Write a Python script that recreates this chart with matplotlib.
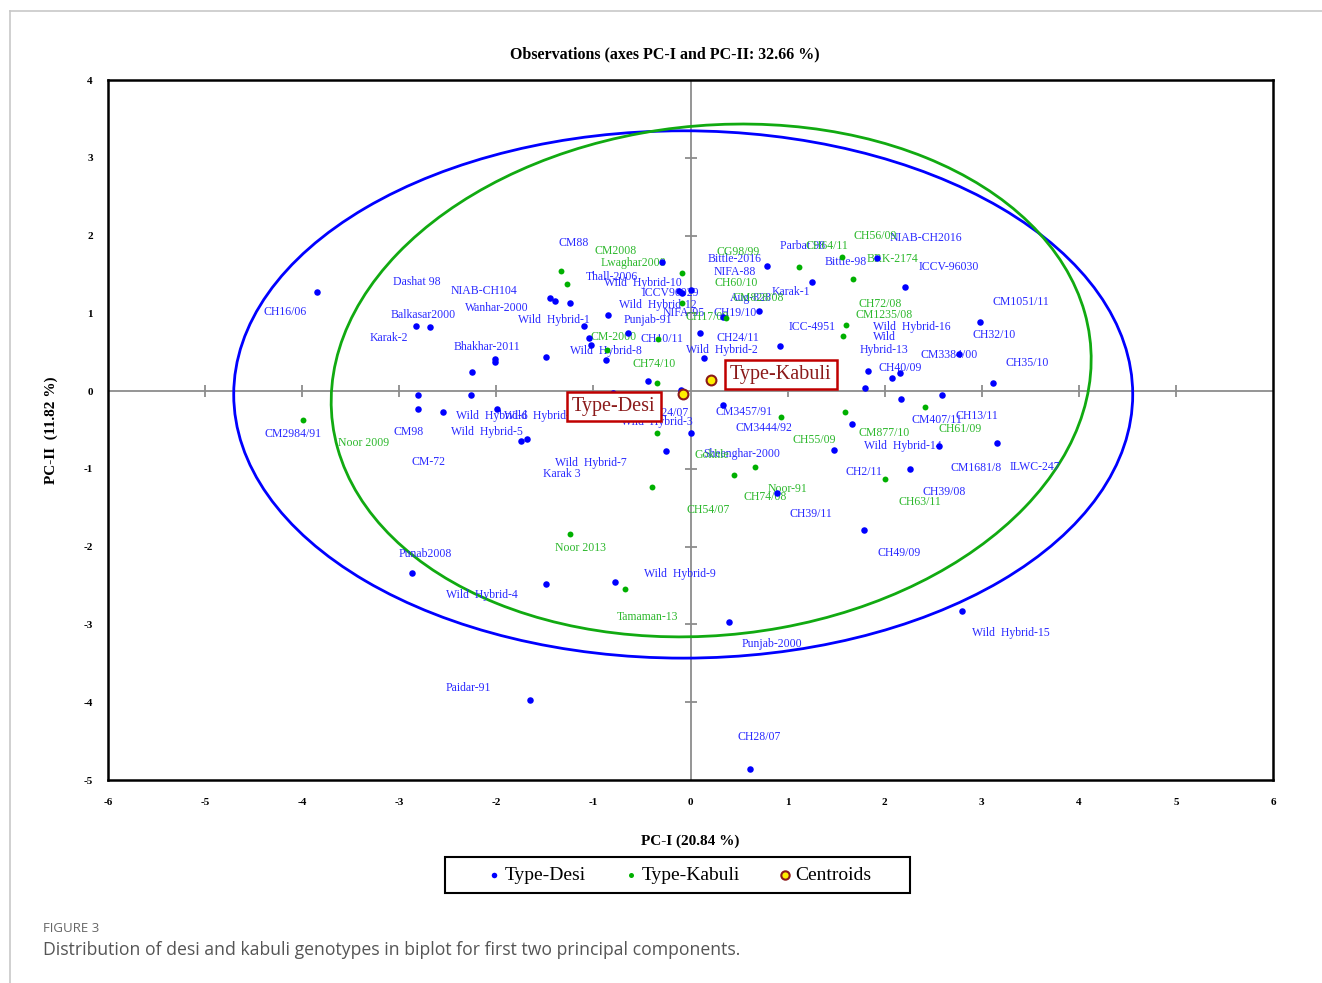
import matplotlib.pyplot as plt
from matplotlib.patches import Ellipse, Rectangle
from matplotlib.lines import Line2D

plt.rcParams['font.family'] = ['Liberation Serif', 'DejaVu Serif']
plt.rcParams['axes.unicode_minus'] = False

# PCA scores, desi genotypes
desi_x = [-3.845, -2.825, -2.685, -2.015, -2.015, -2.252, -1.486, -1.447, -1.397, -1.243,
          -2.804, -2.259, -2.804, -2.547, -1.991, -1.751, -1.689, -2.866, -0.291, -0.120,
          -0.085, 0.007, -0.848, -1.092, -0.642, -1.047, -1.023, -0.872, 0.103, 0.144,
          0.704, 0.790, 1.256, 0.927, -0.433, -1.047, -0.800, -0.096, 0.330, 1.922,
          2.214, 2.987, 2.763, 1.830, 2.163, 2.077, 3.113, 1.802, 2.592, 2.170,
          0.007, -0.250, 0.893, 1.668, 1.483, 2.557, 3.158, 2.259, 1.792, -1.486,
          -0.779, 0.398, -1.658, 2.801, 0.618, 0.330]
desi_y = [1.276, 0.835, 0.819, 0.407, 0.377, 0.244, 0.441, 1.199, 1.157, 1.131,
          -0.051, -0.051, -0.231, -0.274, -0.235, -0.643, -0.621, -2.343, 1.654, 1.285,
          1.264, 1.298, 0.985, 0.835, 0.741, 0.677, 0.591, 0.398, 0.741, 0.420,
          1.028, 1.611, 1.397, 0.583, 0.125, -0.094, -0.021, 0.013, -0.184, 1.713,
          1.341, 0.883, 0.471, 0.257, 0.227, 0.171, 0.099, 0.034, -0.051, -0.103,
          -0.536, -0.767, -1.307, -0.424, -0.758, -0.703, -0.673, -1.003, -1.787, -2.481,
          -2.455, -2.969, -3.976, -2.824, -4.859, 0.950]

# PCA scores, kabuli genotypes
kabuli_x = [-3.989, -1.339, -1.270, -0.085, -0.085, -0.865, -0.333, 0.370, 1.119, -0.350,
            0.937, 1.562, 1.675, 1.603, 1.572, 2.420, 1.596, -0.343, 0.669, 0.446,
            -0.395, -1.243, 2.001, -0.673]
kabuli_y = [-0.375, 1.542, 1.379, 1.513, 1.127, 0.527, 0.664, 0.940, 1.598, 0.099,
            -0.330, 1.726, 1.440, 0.848, 0.711, -0.210, -0.274, -0.544, -0.981, -1.084,
            -1.238, -1.842, -1.135, -2.545]

# class centroids (desi, kabuli)
cent_x = [-0.075, 0.213]
cent_y = [-0.043, 0.137]

desi_names = ['CH16/06', 'Dashat 98', 'NIAB-CH104', 'Wanhar-2000', 'Balkasar2000', 'Karak-2',
              'Bhakhar-2011', 'Wild  Hybrid-1', 'CM88', 'Thall-2006', 'Wild  Hybrid-10',
              'ICCV96029', 'Wild  Hybrid-12', 'NIFA-95', 'Punjab-91', 'CH19/10', 'CH10/11',
              'Wild  Hybrid-8', 'CH24/11', 'Wild  Hybrid-2', 'Bittle-2016', 'NIFA-88',
              'Aug-828', 'Karak-1', 'Parbat 98', 'ICC-4951', 'NIAB-CH2016', 'Bittle-98',
              'ICCV-96030', 'Wild  Hybrid-16', 'Wild', 'Hybrid-13', 'CM3384/00', 'CH40/09',
              'CM1051/11', 'CH32/10', 'CH35/10', 'CM2984/91', 'CM98', 'Wild  Hybrid-5',
              'Wild  Hybrid-6', 'Wild  Hybrid-11', 'CM-72', 'Punab2008', 'CH24/07',
              'Wild  Hybrid-3', 'CM3457/91', 'CM3444/92', 'Sheenghar-2000', 'Wild  Hybrid-7',
              'Karak 3', 'CH39/11', 'Wild  Hybrid-9', 'CM407/11', 'CH13/11', 'Wild  Hybrid-14',
              'CH2/11', 'CM1681/8', 'ILWC-247', 'CH39/08', 'CH49/09', 'Wild  Hybrid-4',
              'Paidar-91', 'Punjab-2000', 'Wild  Hybrid-15', 'CH28/07']
desi_lx = [-4.178, -2.815, -2.129, -1.991, -2.757, -3.107, -2.094, -1.411, -1.208, -0.814,
           -0.487, -0.206, -0.333, -0.069, -0.436, 0.463, -0.299, -0.875, 0.491, 0.319,
           0.453, 0.453, 0.618, 1.030, 1.150, 1.253, 2.420, 1.596, 2.660, 2.283,
           1.998, 1.991, 2.667, 2.156, 3.405, 3.124, 3.467, -4.092, -2.907, -2.101,
           -2.050, -1.520, -2.695, -2.729, -0.237, -0.350, 0.549, 0.755, 0.532, -1.030,
           -1.321, 1.236, -0.110, 2.540, 2.945, 2.190, 1.785, 2.945, 3.543, 2.616,
           2.145, -2.152, -2.293, 0.834, 3.303, 0.704]
desi_ly = [1.019, 1.405, 1.285, 1.071, 0.977, 0.677, 0.569, 0.913, 1.906, 1.469,
           1.392, 1.256, 1.105, 0.999, 0.913, 0.999, 0.664, 0.514, 0.677, 0.527,
           1.693, 1.534, 1.195, 1.276, 1.868, 0.827, 1.975, 1.654, 1.598, 0.827,
           0.698, 0.527, 0.463, 0.300, 1.148, 0.720, 0.356, -0.557, -0.523, -0.523,
           -0.321, -0.321, -0.908, -2.099, -0.283, -0.394, -0.274, -0.471, -0.810, -0.921,
           -1.067, -1.585, -2.356, -0.373, -0.321, -0.703, -1.045, -0.994, -0.981, -1.294,
           -2.078, -2.622, -3.822, -3.256, -3.115, -4.452]

kabuli_names = ['CM2008', 'Lwaghar2008', 'CH17/08', 'CM-2000', 'CH74/10', 'CG98/99', 'CH60/10',
                'CM828/08', 'CH64/11', 'CH56/09', 'BRK-2174', 'CH72/08', 'CM1235/08',
                'Noor 2009', 'CH55/09', 'Gokhle', 'Noor-91', 'CH74/08', 'CH54/07', 'Noor 2013',
                'CM877/10', 'CH61/09', 'CH63/11', 'Tamaman-13']
kabuli_lx = [-0.772, -0.584, 0.172, -0.790, -0.378, 0.487, 0.474, 0.700, 1.408, 1.905,
             2.077, 1.950, 1.991, -3.371, 1.270, 0.216, 0.996, 0.772, 0.182, -1.133,
             1.991, 2.774, 2.362, -0.439]
kabuli_ly = [1.799, 1.641, 0.947, 0.698, 0.343, 1.783, 1.384, 1.195, 1.864, 1.992,
             1.693, 1.118, 0.977, -0.664, -0.630, -0.823, -1.264, -1.358, -1.530, -2.022,
             -0.544, -0.493, -1.423, -2.909]

# confidence ellipses: full width, full height, angle
desi_ell = dict(w=9.26, h=6.78, ang=0.0)
kabuli_ell = dict(w=7.89, h=6.52, ang=12.8)

blue = '#0000ff'
green = '#00b000'
blue_txt = '#2a2aff'
green_txt = '#2db82d'

W, H = 1322, 983
fig = plt.figure(figsize=(W / 100, H / 100), dpi=100)
ax = fig.add_axes([108 / W, 1 - 780 / H, (1273 - 108) / W, (780 - 80) / H])
ax.set_xlim(-6, 6)
ax.set_ylim(-5, 4)

# zero lines with their little tick marks
xt = [v for v in range(-5, 6) if v != 0]
yt = [v for v in range(-4, 5) if v != 0]
ax.axhline(0, color='#8c8c8c', lw=1.3, zorder=1)
ax.axvline(0, color='#8c8c8c', lw=1.3, zorder=1)
ax.plot(xt, [0] * len(xt), ls='none', marker='|', ms=8, mew=1.3, color='#8c8c8c', zorder=1)
ax.plot([0] * len(yt), yt, ls='none', marker='_', ms=8, mew=1.3, color='#8c8c8c', zorder=1)

ax.add_patch(Ellipse((cent_x[0], cent_y[0]), desi_ell['w'], desi_ell['h'],
                     angle=desi_ell['ang'], fill=False, ec=blue, lw=2.0, zorder=2))
ax.add_patch(Ellipse((cent_x[1], cent_y[1]), kabuli_ell['w'], kabuli_ell['h'],
                     angle=kabuli_ell['ang'], fill=False, ec='#11aa11', lw=2.0, zorder=2))

for name, x, y in zip(desi_names, desi_lx, desi_ly):
    ax.text(x, y, name, color=blue_txt, fontsize=8.5, ha='center', va='center', zorder=3)
for name, x, y in zip(kabuli_names, kabuli_lx, kabuli_ly):
    ax.text(x, y, name, color=green_txt, fontsize=8.5, ha='center', va='center', zorder=3)

ax.scatter(desi_x, desi_y, s=22, color=blue, lw=0, zorder=4, label='Type-Desi')
ax.scatter(kabuli_x, kabuli_y, s=18, color=green, lw=0, zorder=4, label='Type-Kabuli')
ax.scatter(cent_x, cent_y, s=50, color='#ffee00', ec='#8b1a1a', lw=1.5, zorder=5,
           label='Centroids')

box = dict(boxstyle='square,pad=0.25', fc='white', ec='#c00000', lw=1.8)
ax.text(-0.79, -0.2, 'Type-Desi', fontsize=14.5, color='#8b1a1a', ha='center',
        va='center', bbox=box, zorder=6)
ax.text(0.93, 0.21, 'Type-Kabuli', fontsize=14.5, color='#8b1a1a', ha='center',
        va='center', bbox=box, zorder=6)

ax.set_xticks(range(-6, 7))
ax.set_yticks(range(-5, 5))
ax.tick_params(length=0, labelsize=8)
ax.tick_params(axis='x', pad=13)
ax.tick_params(axis='y', pad=11)
for lab in ax.get_xticklabels() + ax.get_yticklabels():
    lab.set_fontweight('bold')
for sp in ax.spines.values():
    sp.set_linewidth(1.8)
    sp.set_color('black')

ax.set_xlabel('PC-I (20.84 %)', fontsize=11, fontweight='bold', labelpad=20)
ax.set_ylabel('PC-II  (11.82 %)', fontsize=11, fontweight='bold', labelpad=18)
fig.text(665 / W, 1 - 54 / H, 'Observations (axes PC-I and PC-II: 32.66 %)',
         fontsize=11.5, fontweight='bold', ha='center', va='center')

# legend entries without frame, wide box drawn separately
fig.legend(loc='center', bbox_to_anchor=(680 / W, 1 - 875 / H), ncol=3,
           fontsize=14, frameon=False, handlelength=0.6, handletextpad=0.25,
           columnspacing=2.0, borderpad=0.3, borderaxespad=0, markerscale=0.85)
fig.add_artist(Rectangle((445 / W, 1 - 893 / H), (910 - 445) / W, 36 / H,
                         transform=fig.transFigure, fill=False, ec='black', lw=1.5))

# page furniture around the figure
fig.add_artist(Line2D([10 / W, 1], [1 - 11 / H] * 2, color='#c8c8c8', lw=1.2))
fig.add_artist(Line2D([10 / W] * 2, [0, 1 - 11 / H], color='#c8c8c8', lw=1.2))
fig.text(43 / W, 1 - 928 / H, 'FIGURE 3', fontsize=9.5, color='#666666',
         family=['Open Sans', 'DejaVu Sans'], va='center')
fig.text(43 / W, 1 - 950 / H,
         'Distribution of desi and kabuli genotypes in biplot for first two principal components.',
         fontsize=12.7, color='#555555', family=['Open Sans', 'DejaVu Sans'], va='center')

fig.savefig('out.png', dpi=100)
